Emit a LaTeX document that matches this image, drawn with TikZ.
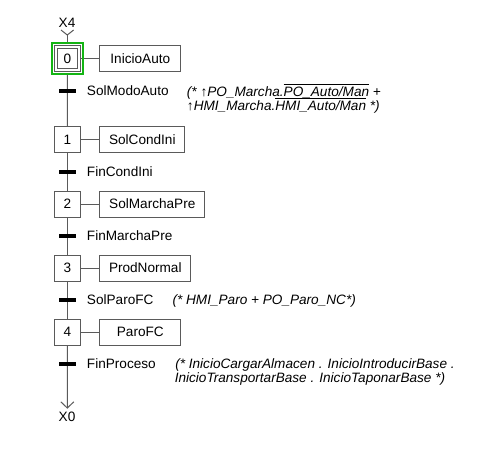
\documentclass[tikz,border=0pt]{standalone}
\usepackage{fontspec}
\setmainfont{Liberation Sans}
\definecolor{linec}{RGB}{90,90,90}
\definecolor{actgreen}{RGB}{20,180,20}
\newcommand\ovl[1]{$\overline{\hbox{#1}}$}
\begin{document}
\begin{tikzpicture}[x=0.75pt,y=-0.75pt,
 font=\fontsize{10.2}{12}\selectfont,
 ln/.style={draw=linec, line width=0.75pt},
 stepbox/.style={ln, minimum size=19.5pt, inner sep=0pt, fill=white},
 actbox/.style={ln, minimum height=19.5pt, inner sep=0pt, anchor=west, fill=white},
 bar/.style={fill=black, minimum width=12.75pt, minimum height=3pt, inner sep=0pt},
 lbl/.style={anchor=base west, inner sep=0pt},
 cmt/.style={anchor=base west, inner sep=0pt, font=\fontsize{10.2}{12}\selectfont\itshape},
 endlbl/.style={inner sep=1pt}]
\useasboundingbox[fill=white] (0,0) rectangle (493,472);

% steps
\node[stepbox] (s0) at (67.3,58.6) {};
\node[stepbox, minimum size=15pt] (s0i) at (s0.center) {0};
\node[stepbox] (s1) at (67.5,139.5) {1};
\node[stepbox] (s2) at (67.5,204) {2};
\node[stepbox] (s3) at (67.5,268) {3};
\node[stepbox] (s4) at (67.5,332) {4};

% actions
\node[actbox, minimum width=60.75pt] (a0) at (99.3,58.6) {InicioAuto};
\node[actbox, minimum width=63.75pt] (a1) at (99.3,139.5) {SolCondIni};
\node[actbox, minimum width=78.75pt] (a2) at (99.3,204) {SolMarchaPre};
\node[actbox, minimum width=68.25pt] (a3) at (99.3,268) {ProdNormal};
\node[actbox, minimum width=60.75pt] (a4) at (99.3,332) {ParoFC};

\draw[ln] (s0.east) -- (a0.west);
\draw[ln] (s1.east) -- (a1.west);
\draw[ln] (s2.east) -- (a2.west);
\draw[ln] (s3.east) -- (a3.west);
\draw[ln] (s4.east) -- (a4.west);

% active marker
\node[draw=actgreen, line width=1.5pt, minimum size=23pt, inner sep=0pt] (g0) at (s0.center) {};

% vertical links
\coordinate (top) at (67.3,35);
\coordinate (tl) at (61,30);
\coordinate (tr) at (73.6,30);
\coordinate (bot) at (67.3,408);
\coordinate (bl) at (60.8,401.8);
\coordinate (br) at (73.8,401.8);
\draw[ln] (tl) -- (top) -- (tr);
\draw[ln] (top) -- (g0.north);
\draw[ln] (g0.south) -- (s1.north);
\draw[ln] (s1.south) -- (s2.north);
\draw[ln] (s2.south) -- (s3.north);
\draw[ln] (s3.south) -- (s4.north);
\draw[ln] (s4.south) -- (bot);
\draw[ln] (bl) -- (bot) -- (br);

\node[endlbl] (x4) at (67,22.5) {X4};
\node[endlbl] (x0) at (67,416.7) {X0};

% transitions
\node[bar] (t0) at (67.3,91.2) {};
\node[bar] (t1) at (67.3,171.7) {};
\node[bar] (t2) at (67.3,235.7) {};
\node[bar] (t3) at (67.3,300) {};
\node[bar] (t4) at (67.3,364) {};

\node[lbl] (l0) at (86.7,95.8) {SolModoAuto};
\node[lbl] (l1) at (86.7,176.5) {FinCondIni};
\node[lbl] (l2) at (86.7,240.5) {FinMarchaPre};
\node[lbl] (l3) at (86.7,304.8) {SolParoFC};
\node[lbl] (l4) at (86.7,368.8) {FinProceso};

% receptivities
\node[cmt] (c0a) at (186.7,96.3) {(* ↑PO\_Marcha.\ovl{PO\_Auto/Man} +};
\node[cmt] (c0b) at (186.7,110.3) {↑HMI\_Marcha.\ovl{HMI\_Auto/Man} *)};
\node[cmt] (c3) at (172.3,304.8) {(* HMI\_Paro + PO\_Paro\_NC*)};
\node[cmt] (c4a) at (175,368.3) {(* InicioCargarAlmacen . InicioIntroducirBase .};
\node[cmt] (c4b) at (174.5,382.3) {InicioTransportarBase . InicioTaponarBase *)};
\end{tikzpicture}
\end{document}
